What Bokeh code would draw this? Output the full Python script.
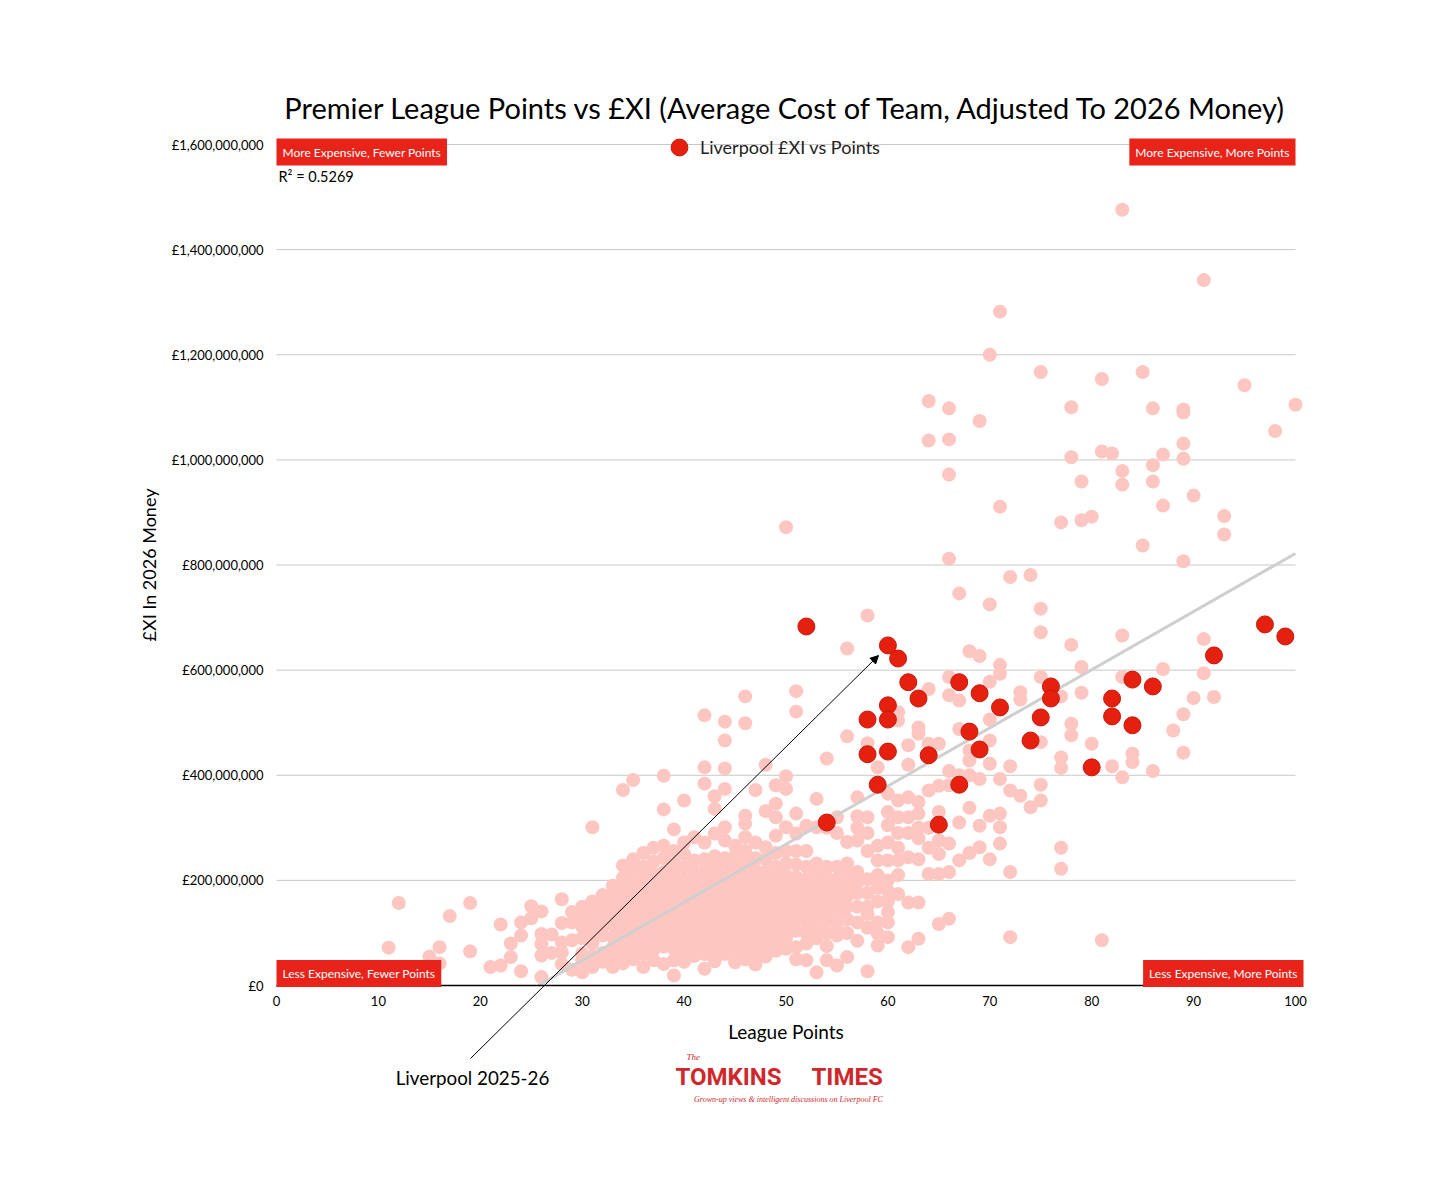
from bokeh.plotting import figure
from bokeh.models import (Label, Arrow, NormalHead, Legend, LegendItem, FixedTicker,
                          LinearAxis, Range1d)
from bokeh.embed import file_html
from bokeh.resources import INLINE

FONT = "Lato"

# ---- data (league points -> £XI in £m, 2026 money) ----
others_under_30 = {
    11: [72], 12: [157], 15: [55], 16: [73, 42], 17: [132], 19: [157, 65],
    21: [35], 22: [116, 38], 23: [80, 54], 24: [120, 95, 27], 25: [151, 128],
    26: [141, 98, 79, 57, 16], 27: [97, 62], 28: [164, 119, 82, 63, 41],
    29: [140, 120, 86, 30],
}
others_30s = {
    30: [150, 132, 112, 90, 61, 48, 25],
    31: [301, 160, 142, 122, 102, 80, 55, 35],
    32: [172, 152, 132, 112, 95, 62, 45],
    33: [190, 172, 155, 135, 115, 92, 72, 55, 35],
    34: [372, 228, 205, 185, 162, 142, 122, 102, 82, 62, 42],
    35: [391, 240, 218, 196, 175, 152, 132, 112, 92, 70, 50],
    36: [252, 226, 202, 180, 160, 140, 120, 100, 80, 60, 35],
    37: [262, 236, 212, 190, 170, 150, 130, 110, 90, 68, 48],
    38: [399, 335, 266, 242, 216, 196, 176, 156, 136, 116, 96, 74, 41],
    39: [297, 256, 232, 210, 190, 170, 150, 130, 110, 90, 70, 48, 19],
}
others_40s = {
    40: [352, 272, 250, 226, 202, 182, 162, 142, 122, 102, 82, 62, 45],
    41: [282, 238, 216, 196, 176, 156, 136, 116, 96, 76, 56],
    42: [514, 415, 384, 272, 240, 220, 200, 180, 160, 140, 120, 100, 80, 60, 32],
    43: [360, 336, 289, 246, 226, 206, 186, 166, 146, 126, 106, 86, 66, 46],
    44: [502, 466, 413, 374, 301, 276, 242, 222, 202, 182, 162, 142, 122, 102, 82, 60],
    45: [266, 247, 226, 206, 186, 166, 146, 126, 106, 86, 66, 44],
    46: [550, 499, 323, 308, 282, 256, 232, 210, 190, 170, 150, 130, 110, 90, 70, 50],
    47: [372, 272, 242, 220, 200, 180, 160, 140, 120, 100, 80, 60, 40],
    48: [420, 332, 263, 240, 216, 196, 176, 156, 136, 116, 96, 76, 55],
    49: [381, 346, 320, 285, 252, 226, 206, 186, 166, 146, 126, 106, 86, 66],
}
others_50s = {
    50: [872, 398, 374, 301, 256, 232, 210, 190, 170, 150, 130, 110, 90, 70],
    51: [560, 521, 327, 289, 256, 230, 206, 186, 166, 146, 126, 104, 73, 50],
    52: [304, 256, 226, 202, 182, 162, 142, 122, 100, 80, 48],
    53: [355, 301, 232, 210, 190, 170, 150, 130, 110, 90, 25],
    54: [432, 300, 226, 206, 186, 166, 146, 124, 100, 75, 48],
    55: [320, 290, 226, 202, 182, 160, 140, 116, 95, 38],
    56: [641, 474, 273, 232, 210, 190, 170, 150, 126, 100, 54],
    57: [358, 322, 300, 276, 216, 196, 176, 150, 120, 85],
    58: [704, 461, 320, 290, 256, 202, 176, 150, 136, 110, 27],
    59: [415, 266, 238, 210, 186, 160, 120, 99, 76],
}
others_60s = {
    60: [365, 330, 305, 272, 238, 200, 180, 160, 140, 120, 92],
    61: [520, 504, 352, 320, 290, 262, 238, 210, 174],
    62: [457, 420, 358, 320, 290, 244, 158, 73],
    63: [491, 479, 349, 327, 300, 280, 240, 158, 89],
    64: [1112, 1037, 564, 460, 371, 300, 262, 212],
    65: [460, 380, 330, 276, 250, 212, 117],
    66: [1098, 1039, 972, 812, 587, 552, 408, 381, 270, 216, 127],
    67: [746, 542, 488, 400, 310, 238],
    68: [636, 447, 428, 400, 338, 252],
    69: [1074, 627, 393, 304, 263],
}
others_70s = {
    70: [1200, 725, 578, 506, 466, 422, 323, 240],
    71: [1282, 911, 610, 593, 393, 327, 301, 270],
    72: [777, 417, 371, 216, 92],
    73: [558, 544, 361],
    74: [781, 339],
    75: [1167, 717, 672, 587, 463, 382, 352],
    77: [881, 550, 434, 414, 262, 222],
    78: [1100, 1005, 648, 498, 476],
    79: [959, 885, 606, 557],
}
others_80s = {
    80: [892, 460],
    81: [1154, 1016, 86],
    82: [1012, 417],
    83: [1476, 979, 953, 666, 587, 396],
    84: [441, 425],
    85: [1167, 837],
    86: [1098, 990, 959, 408],
    87: [1010, 913, 602],
    88: [485],
    89: [1096, 1090, 1031, 1002, 807, 516, 443],
}
others_90s = {
    90: [932, 547], 91: [1342, 659, 594], 92: [549], 93: [893, 858],
    95: [1142], 98: [1055], 100: [1105],
}

lfc_pts = [52, 60, 61, 62, 63, 60, 58, 60, 60, 58, 59, 54, 64, 65, 67, 67, 69,
           68, 69, 71, 74, 75, 76, 76, 80, 82, 82, 84, 84, 86, 92, 97, 99]
lfc_cost = [683, 647, 622, 577, 546, 533, 506, 506, 445, 440, 382, 310, 438, 306,
            577, 382, 556, 483, 449, 529, 466, 510, 569, 546, 415, 546, 512, 582,
            495, 569, 628, 687, 664]

trend_pts = [25.7, 100]
trend_cost = [0, 822]

x_ticks = [0, 10, 20, 30, 40, 50, 60, 70, 80, 90, 100]
y_ticks = [0, 200, 400, 600, 800, 1000, 1200, 1400, 1600]
y_tick_labels = ["£0", "£200,000,000", "£400,000,000", "£600,000,000", "£800,000,000",
                 "£1,000,000,000", "£1,200,000,000", "£1,400,000,000", "£1,600,000,000"]

other_x, other_y = [], []
for band in (others_under_30, others_30s, others_40s, others_50s,
             others_60s, others_70s, others_80s, others_90s):
    for pts, costs in band.items():
        for c in costs:
            other_x.append(pts)
            other_y.append(c)

# ---- layout: plot area position inside the canvas (pixels) ----
W, H = 1440, 1172
PL, PR, PT, PB = 276, 1295, 144, 985
X0, X1, Y0, Y1 = 0, 100, 0, 1600
sx = (PR - PL) / (X1 - X0)
sy = (PB - PT) / (Y1 - Y0)
x_range = Range1d(X0 - PL / sx, X1 + (W - PR) / sx)
y_range = Range1d(Y0 - (H - PB) / sy, Y1 + PT / sy)

PINK = "#FDC6C0"
RED = "#E6200E"
BOX_RED = "#E8231A"

p = figure(width=W, height=H, x_range=x_range, y_range=y_range,
           output_backend="svg", toolbar_location=None, title=None,
           x_axis_location=None, y_axis_location=None, min_border=0)
p.outline_line_color = None
p.background_fill_color = "white"
p.border_fill_color = "white"
p.grid.visible = False

xaxis = LinearAxis(fixed_location=Y0, bounds=(X0, X1), ticker=FixedTicker(ticks=x_ticks))
yaxis = LinearAxis(fixed_location=X0, bounds=(Y0, Y1), ticker=FixedTicker(ticks=y_ticks),
                   major_label_overrides={t: s for t, s in zip(y_ticks, y_tick_labels)})
for ax in (xaxis, yaxis):
    ax.major_tick_line_color = None
    ax.minor_tick_line_color = None
    ax.major_tick_out = 0
    ax.major_tick_in = 0
    ax.minor_tick_out = 0
    ax.minor_tick_in = 0
    ax.major_label_text_font = FONT
    ax.major_label_text_font_size = "13px"
    ax.major_label_text_color = "black"
    ax.axis_label_text_font = FONT
    ax.axis_label_text_font_style = "normal"
    ax.axis_label_text_color = "black"
xaxis.axis_label_text_font_size = "19px"
yaxis.axis_label_text_font_size = "18px"
xaxis.axis_line_color = "black"
xaxis.axis_line_width = 1.5
yaxis.axis_line_color = None
xaxis.major_label_standoff = 10
yaxis.major_label_standoff = 13
xaxis.axis_label = "League Points"
yaxis.axis_label = "£XI In 2026 Money"
xaxis.axis_label_standoff = 11
yaxis.axis_label_standoff = 9

# gridlines at the y ticks across the plot area
grid_y = y_ticks[1:]
p.segment(x0=[X0] * len(grid_y), y0=grid_y, x1=[X1] * len(grid_y), y1=grid_y,
          line_color="#C8C8C8", line_width=1)

p.scatter(other_x, other_y, size=14, fill_color=PINK, line_color=None)
p.line(trend_pts, trend_cost, line_color="#CFCFCF", line_width=3)
lfc = p.scatter(lfc_pts, lfc_cost, size=17, fill_color=RED, line_color="#C8190B",
                line_width=1)
p.add_layout(xaxis, "below")
p.add_layout(yaxis, "left")

legend = Legend(items=[LegendItem(label="Liverpool £XI vs Points", renderers=[lfc])],
                location=(658, H - 147 - 21), orientation="horizontal",
                glyph_width=42, glyph_height=42, label_standoff=0, padding=0, margin=0,
                border_line_color=None, background_fill_alpha=0,
                label_text_font=FONT, label_text_font_size="18px",
                label_text_color="#222222")
p.add_layout(legend)

def ypx(py):
    return Y0 + (PB - py) / sy

def xpx(px):
    return X0 + (px - PL) / sx

p.add_layout(Label(x=xpx(786), y=ypx(107),
                   text="Premier League Points vs £XI (Average Cost of Team, Adjusted To 2026 Money)",
                   text_align="center", text_baseline="middle", text_font=FONT,
                   text_font_size="29px", text_color="black"))

def quad(x, y, text, align):
    return Label(x=x, y=y, text=text, text_align=align, text_baseline="middle",
                 text_font=FONT, text_font_size="12px", text_color="white",
                 background_fill_color=BOX_RED, padding=6)

p.add_layout(quad(X0, ypx(151.5), "More Expensive, Fewer Points", "left"))
p.add_layout(quad(X1, ypx(151.5), "More Expensive, More Points", "right"))
p.add_layout(quad(X0, ypx(973), "Less Expensive, Fewer Points", "left"))
p.add_layout(quad(xpx(1303), ypx(973), "Less Expensive, More Points", "right"))

p.add_layout(Label(x=xpx(278), y=ypx(176), text="R² = 0.5269", text_align="left",
                   text_baseline="middle", text_font=FONT, text_font_size="14.5px",
                   text_color="black"))

p.add_layout(Arrow(x_start=xpx(470), y_start=ypx(1058), x_end=xpx(878), y_end=ypx(655),
                   line_color="black", line_width=1,
                   end=NormalHead(size=8, fill_color="black", line_color="black")))
p.add_layout(Label(x=xpx(472), y=ypx(1077), text="Liverpool 2025-26", text_align="center",
                   text_baseline="middle", text_font=FONT, text_font_size="18.8px",
                   text_color="black"))

LOGO_RED = "#D0272B"
p.add_layout(Label(x=xpx(781), y=ypx(1076), text="TOMKINS", text_align="right",
                   text_baseline="middle", text_font="Roboto",
                   text_font_style="bold", text_font_size="24px", text_color=LOGO_RED))
p.add_layout(Label(x=xpx(811), y=ypx(1076), text="TIMES", text_align="left",
                   text_baseline="middle", text_font="Roboto",
                   text_font_style="bold", text_font_size="24px", text_color=LOGO_RED))
p.add_layout(Label(x=xpx(686), y=ypx(1056), text="The", text_align="left",
                   text_baseline="middle", text_font="Liberation Serif",
                   text_font_style="italic", text_font_size="9px", text_color=LOGO_RED))
p.add_layout(Label(x=xpx(788), y=ypx(1099),
                   text="Grown-up views & intelligent discussions on Liverpool FC",
                   text_align="center", text_baseline="middle", text_font="Liberation Serif",
                   text_font_style="italic", text_font_size="8px", text_color=LOGO_RED))

open("out.html", "w").write(file_html(p, INLINE))
